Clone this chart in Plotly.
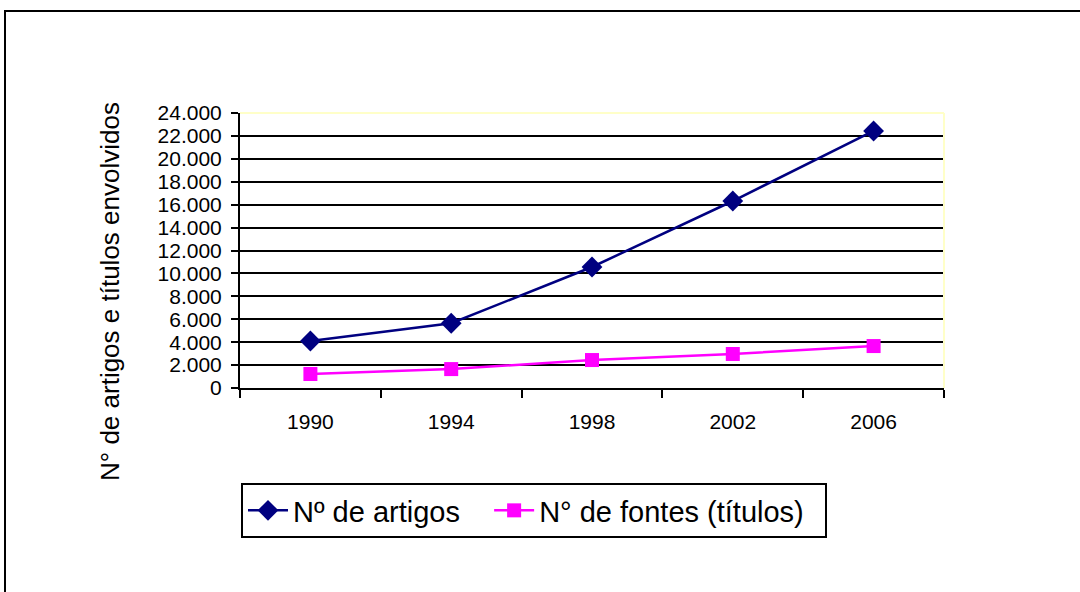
import plotly.graph_objects as go

years = ["1990", "1994", "1998", "2002", "2006"]
artigos = [4100, 5650, 10560, 16320, 22430]
fontes = [1220, 1650, 2440, 2970, 3660]
y_ticks = list(range(0, 24001, 2000))
names = ["Nº de artigos", "N° de fontes (títulos)"]

FONT = "Liberation Sans, Arial, sans-serif"
NB = "\u00a0"

fig = go.Figure()
fig.add_trace(go.Scatter(
    x=years, y=artigos, name=names[0] + NB * 3, mode="lines+markers",
    line=dict(color="#000080", width=2.5),
    marker=dict(symbol="diamond", size=16, color="#000080"),
))
fig.add_trace(go.Scatter(
    x=years, y=fontes, name=names[1] + NB * 2, mode="lines+markers",
    line=dict(color="#FF00FF", width=2.5),
    marker=dict(symbol="square", size=14, color="#FF00FF"),
))

L, R, T, B = 240, 944, 113, 388
W, H = 1080, 592
pw, ph = R - L, B - T

fig.update_layout(
    width=W, height=H,
    margin=dict(l=L, r=W - R, t=T, b=H - B, pad=0),
    paper_bgcolor="white", plot_bgcolor="white",
    separators=",.",
    font=dict(family=FONT, color="black", size=21),
    showlegend=True,
    legend=dict(
        orientation="h", x=(241 - L) / pw, y=-(483 - B) / ph,
        xanchor="left", yanchor="top",
        bordercolor="black", borderwidth=2, bgcolor="white",
        font=dict(size=29, family=FONT), itemwidth=40,
        traceorder="normal",
    ),
    xaxis=dict(
        type="category", range=[-0.5, 4.5],
        showline=True, linecolor="black", linewidth=2,
        ticks="outside", tickson="boundaries", ticklen=8, tickwidth=2, tickcolor="black",
        showgrid=False, tickfont=dict(size=21), ticklabelstandoff=14,
    ),
    yaxis=dict(
        range=[0, 24000], tickvals=y_ticks, tickformat=",d",
        showline=True, linecolor="black", linewidth=2,
        ticks="outside", ticklen=7, tickwidth=2, tickcolor="black",
        showgrid=True, gridcolor="black", gridwidth=2, zeroline=False,
        tickfont=dict(size=21), ticklabelstandoff=5,
    ),
    shapes=[
        # pale top and right border of the plot area
        dict(type="line", xref="paper", yref="paper", x0=0, x1=1, y0=1, y1=1,
             line=dict(color="#FFFFC8", width=2), layer="above"),
        dict(type="line", xref="paper", yref="paper", x0=1, x1=1, y0=0, y1=1,
             line=dict(color="#FFFFC8", width=2), layer="above"),
        # outer chart frame
        dict(type="rect", xref="paper", yref="paper",
             x0=(5 - L) / pw, x1=(W + 20 - L) / pw,
             y0=-(H + 20 - B) / ph, y1=1 + (T - 11) / ph,
             line=dict(color="black", width=2), layer="below"),
    ],
    annotations=[
        dict(text="N° de artigos e títulos envolvidos", textangle=-90,
             xref="paper", yref="paper", x=(110 - L) / pw, y=(B - 292) / ph,
             xanchor="center", yanchor="middle", showarrow=False,
             font=dict(size=26, family=FONT)),
    ],
)

fig.write_html("out.html", config={"displayModeBar": False},
               post_script="document.body.style.margin='0';")
